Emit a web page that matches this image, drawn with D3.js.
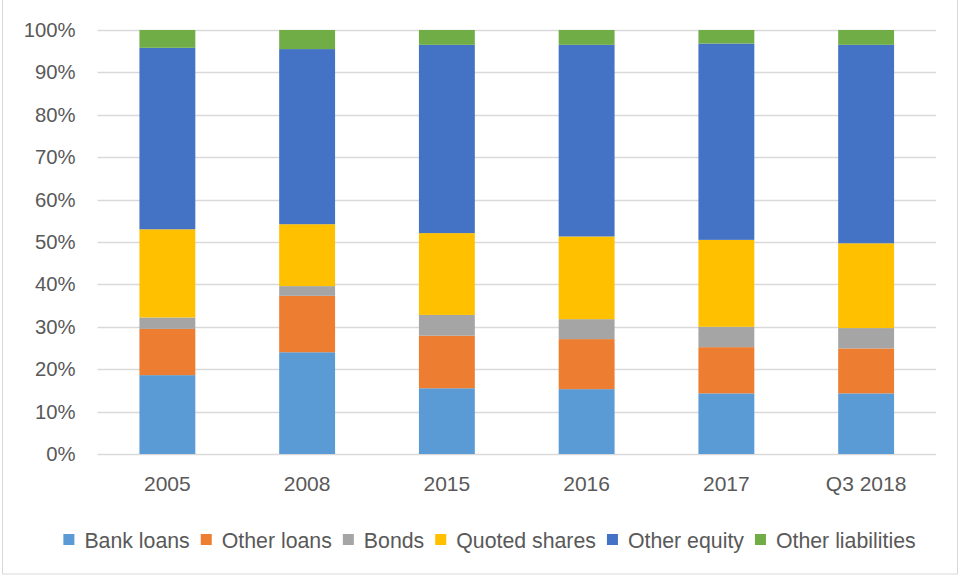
<!DOCTYPE html>
<html>
<head>
<meta charset="utf-8">
<script src="https://cdn.jsdelivr.net/npm/d3@7"></script>
<style>
    body { margin: 0; background: #fff; }
    text { font-family: 'Liberation Sans', Arial, sans-serif; fill: #595959; }
</style>
</head>
<body>
<div id="chart"></div>
<script>
// categories and shares (%)
let periods = ['2005', '2008', '2015', '2016', '2017', 'Q3 2018'];
let seriesNames = ['Bank loans', 'Other loans', 'Bonds', 'Quoted shares', 'Other equity', 'Other liabilities'];
let bankLoans = [18.6, 24.0, 15.5, 15.3, 14.3, 14.3];
let otherLoans = [10.9, 13.3, 12.4, 11.8, 10.9, 10.6];
let bonds = [2.7, 2.3, 4.9, 4.7, 4.8, 4.8];
let quotedShares = [20.8, 14.6, 19.3, 19.5, 20.5, 20.0];
let otherEquity = [42.8, 41.3, 44.4, 45.2, 46.3, 46.8];
let otherLiabilities = [4.2, 4.5, 3.5, 3.5, 3.2, 3.5];
let yTicks = [0, 10, 20, 30, 40, 50, 60, 70, 80, 90, 100];

let colors = ['#5B9BD5', '#ED7D31', '#A5A5A5', '#FFC000', '#4472C4', '#70AD47'];

function renderChart() {
    let width = 963;
    let height = 577;
    let margin = { top: 30, right: 27, bottom: 123, left: 97.5 };

    let values = [bankLoans, otherLoans, bonds, quotedShares, otherEquity, otherLiabilities];
    let data = periods.map((p, i) => {
        let row = { period: p };
        seriesNames.forEach((s, j) => { row[s] = values[j][i]; });
        return row;
    });

    let stacked = d3.stack().keys(seriesNames)(data);

    let x = d3.scaleBand()
        .domain(periods)
        .range([margin.left, width - margin.right])
        .paddingInner(0.6)
        .paddingOuter(0.3);

    let y = d3.scaleLinear()
        .domain([0, 100])
        .range([height - margin.bottom, margin.top]);

    const svg = d3.select('#chart')
        .append('svg')
        .attr('width', width)
        .attr('height', height);

    // outer frame
    svg.append('rect')
        .attr('x', 2.5)
        .attr('y', -1)
        .attr('width', 955)
        .attr('height', 575)
        .attr('fill', 'none')
        .attr('stroke', '#d9d9d9');

    // gridlines
    svg.append('g')
        .selectAll('line')
        .data(yTicks)
        .join('line')
        .attr('x1', margin.left)
        .attr('x2', width - margin.right)
        .attr('y1', d => Math.round(y(d)) + 0.5)
        .attr('y2', d => Math.round(y(d)) + 0.5)
        .attr('stroke', '#d9d9d9')
        .attr('stroke-width', 1.3);

    // y axis labels
    let yAxis = (g) => g
        .attr('transform', `translate(${margin.left - 5},0)`)
        .call(d3.axisLeft(y).tickValues(yTicks).tickFormat(d => d + '%').tickSize(0).tickPadding(17))
        .call(g => g.select('.domain').remove())
        .call(g => g.selectAll('text')
            .style('font-size', '20.3px')
            .style('font-family', "'Liberation Sans', Arial, sans-serif")
            .attr('fill', '#595959'));

    svg.append('g').call(yAxis);

    // bars
    svg.append('g')
        .selectAll('g')
        .data(stacked)
        .join('g')
        .attr('fill', (d, i) => colors[i])
        .selectAll('rect')
        .data(d => d)
        .join('rect')
        .attr('x', d => x(d.data.period))
        .attr('width', x.bandwidth())
        .attr('y', d => y(d[1]))
        .attr('height', d => y(d[0]) - y(d[1]));

    // x axis
    let xAxis = (g) => g
        .attr('transform', `translate(0,${height - margin.bottom})`)
        .call(d3.axisBottom(x).tickSize(0).tickPadding(22))
        .call(g => g.select('.domain').remove())
        .call(g => g.selectAll('text')
            .style('font-size', '21px')
            .style('font-family', "'Liberation Sans', Arial, sans-serif")
            .attr('fill', '#595959'));

    svg.append('g').call(xAxis);

    // legend
    let legend = svg.append('g');
    let items = legend.selectAll('g')
        .data(seriesNames)
        .join('g');

    items.append('rect')
        .attr('width', 11)
        .attr('height', 11)
        .attr('y', 534)
        .attr('fill', (d, i) => colors[i]);

    items.append('text')
        .attr('x', 21)
        .attr('y', 547.5)
        .style('font-size', '21.3px')
        .text(d => d);

    let offset = 0;
    let positions = [];
    items.each(function () {
        let w = d3.select(this).select('text').node().getComputedTextLength();
        positions.push(offset);
        offset += 21 + w + 11;
    });
    let total = offset - 11;
    let start = 489.5 - total / 2;
    items.attr('transform', (d, i) => `translate(${start + positions[i]},0)`);
}

renderChart();
</script>
</body>
</html>
